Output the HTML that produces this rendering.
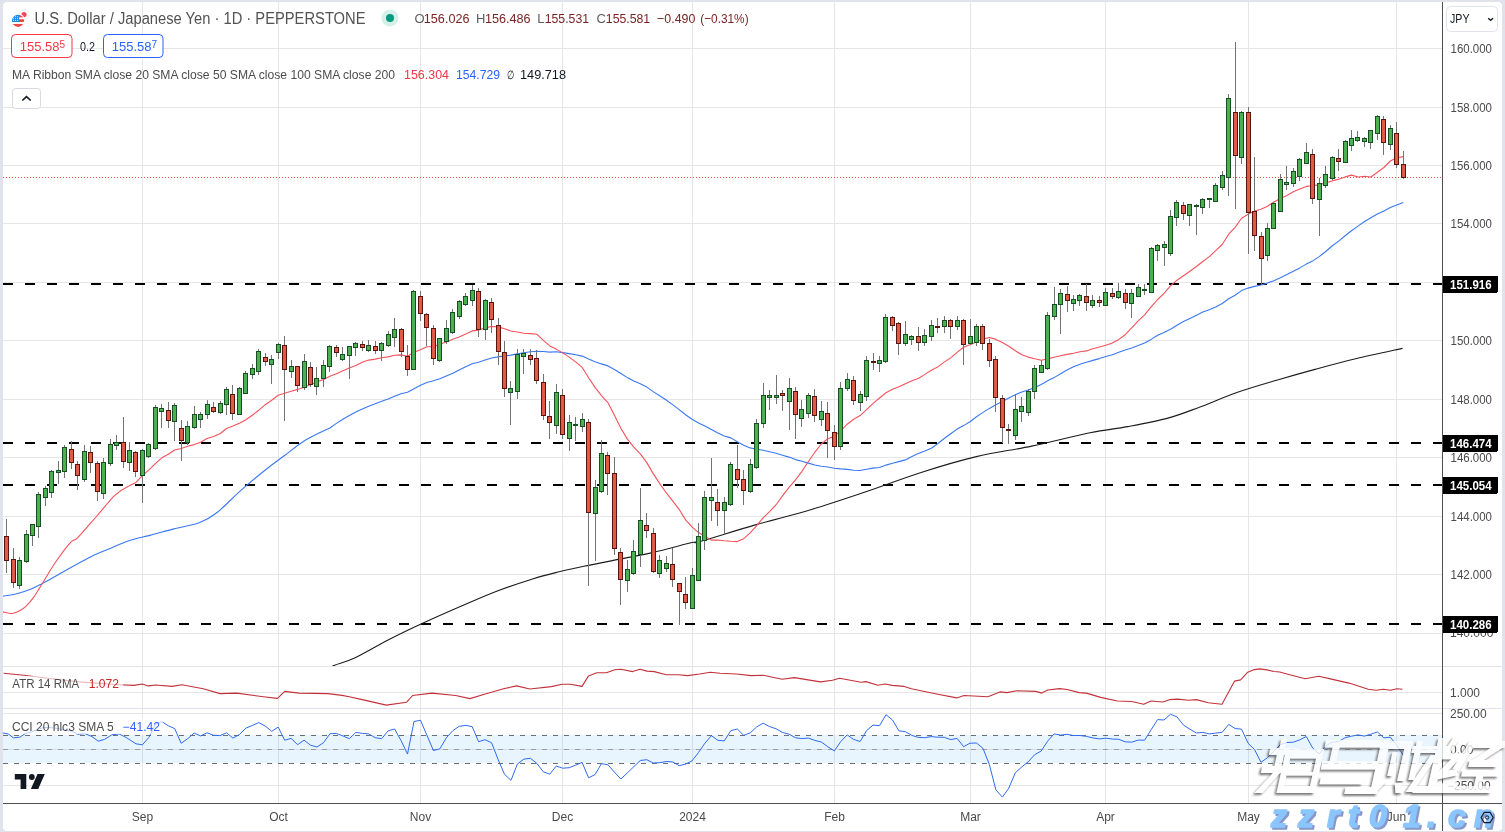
<!DOCTYPE html>
<html><head><meta charset="utf-8"><style>
html,body{margin:0;padding:0;background:#e0e3eb;width:1505px;height:832px;overflow:hidden;}
svg{display:block;will-change:transform}
</style></head><body>
<svg width="1505" height="832" viewBox="0 0 1505 832" shape-rendering="crispEdges">
<rect x="3" y="2" width="1499" height="829" rx="4" fill="#ffffff"/>
<rect x="142" y="2" width="1" height="801" fill="#e6e6e6"/>
<rect x="278" y="2" width="1" height="801" fill="#e6e6e6"/>
<rect x="420" y="2" width="1" height="801" fill="#e6e6e6"/>
<rect x="562" y="2" width="1" height="801" fill="#e6e6e6"/>
<rect x="692" y="2" width="1" height="801" fill="#e6e6e6"/>
<rect x="834" y="2" width="1" height="801" fill="#e6e6e6"/>
<rect x="970" y="2" width="1" height="801" fill="#e6e6e6"/>
<rect x="1105" y="2" width="1" height="801" fill="#e6e6e6"/>
<rect x="1248" y="2" width="1" height="801" fill="#e6e6e6"/>
<rect x="1396" y="2" width="1" height="801" fill="#e6e6e6"/>
<rect x="3" y="48" width="1439" height="1" fill="#e6e6e6"/>
<rect x="3" y="107" width="1439" height="1" fill="#e6e6e6"/>
<rect x="3" y="165" width="1439" height="1" fill="#e6e6e6"/>
<rect x="3" y="223" width="1439" height="1" fill="#e6e6e6"/>
<rect x="3" y="282" width="1439" height="1" fill="#e6e6e6"/>
<rect x="3" y="340" width="1439" height="1" fill="#e6e6e6"/>
<rect x="3" y="399" width="1439" height="1" fill="#e6e6e6"/>
<rect x="3" y="457" width="1439" height="1" fill="#e6e6e6"/>
<rect x="3" y="516" width="1439" height="1" fill="#e6e6e6"/>
<rect x="3" y="574" width="1439" height="1" fill="#e6e6e6"/>
<rect x="3" y="633" width="1439" height="1" fill="#e6e6e6"/>
<rect x="3" y="692" width="1439" height="1" fill="#e6e6e6"/>
<rect x="3" y="713" width="1439" height="1" fill="#e6e6e6"/>
<rect x="3" y="785" width="1439" height="1" fill="#e6e6e6"/>
<rect x="3" y="735" width="1439" height="28" fill="#2196f3" fill-opacity="0.1"/>
<rect x="3" y="749" width="1439" height="1" fill="#d8dde3"/>
<line x1="3" y1="735.5" x2="1442" y2="735.5" stroke="#6a6d75" stroke-width="1" stroke-dasharray="5 6"/>
<line x1="3" y1="749.5" x2="1442" y2="749.5" stroke="#9a9ca3" stroke-width="1" stroke-dasharray="5 6"/>
<line x1="3" y1="763.5" x2="1442" y2="763.5" stroke="#6a6d75" stroke-width="1" stroke-dasharray="5 6"/>
<rect x="3" y="666" width="1499" height="1" fill="#e0e3eb"/>
<rect x="3" y="708" width="1499" height="1" fill="#e0e3eb"/>
<line x1="3" y1="284" x2="1442" y2="284" stroke="#000" stroke-width="2" stroke-dasharray="10 12"/>
<line x1="3" y1="443" x2="1442" y2="443" stroke="#000" stroke-width="2" stroke-dasharray="10 12"/>
<line x1="3" y1="485" x2="1442" y2="485" stroke="#000" stroke-width="2" stroke-dasharray="10 12"/>
<line x1="3" y1="624" x2="1442" y2="624" stroke="#000" stroke-width="2" stroke-dasharray="10 12"/>
<line x1="3" y1="177.5" x2="1442" y2="177.5" stroke="#e0533f" stroke-width="1" stroke-dasharray="1 2"/>
<defs><clipPath id="mainclip"><rect x="3" y="2" width="1439" height="664"/></clipPath></defs>
<g clip-path="url(#mainclip)" fill="none" stroke-linejoin="round" shape-rendering="geometricPrecision">
<path d="M326.00 670.00 C327.43 669.22 329.83 667.28 334.60 665.30 C339.37 663.32 345.52 662.40 354.60 658.10 C363.68 653.80 377.58 645.38 389.10 639.50 C400.62 633.62 411.73 628.33 423.70 622.80 C435.67 617.27 448.95 611.48 460.90 606.30 C472.85 601.12 483.45 596.27 495.40 591.70 C507.35 587.13 521.97 582.22 532.60 578.90 C543.23 575.58 550.33 573.97 559.20 571.80 C568.07 569.63 576.93 567.77 585.80 565.90 C594.67 564.03 601.33 562.82 612.40 560.60 C623.47 558.38 638.92 555.62 652.20 552.60 C665.48 549.58 684.13 544.35 692.10 542.50 C700.07 540.65 689.47 544.43 700.00 541.50 C710.53 538.57 736.87 530.20 755.30 524.90 C773.73 519.60 792.17 515.23 810.60 509.70 C829.03 504.17 847.48 497.92 865.90 491.70 C884.32 485.48 902.68 478.25 921.10 472.40 C939.52 466.55 957.97 460.98 976.40 456.60 C994.83 452.22 1012.77 450.07 1031.70 446.10 C1050.63 442.13 1074.03 436.05 1090.00 432.80 C1105.97 429.55 1114.50 429.05 1127.50 426.60 C1140.50 424.15 1156.02 421.33 1168.00 418.10 C1179.98 414.87 1187.92 411.47 1199.40 407.20 C1210.88 402.93 1223.88 397.03 1236.90 392.50 C1249.92 387.97 1264.48 383.85 1277.50 380.00 C1290.52 376.15 1301.98 372.93 1315.00 369.40 C1328.02 365.87 1341.02 362.30 1355.60 358.80 C1370.18 355.30 1394.68 350.13 1402.50 348.40" stroke="#1c1c1c" stroke-width="1.1"/>
<path d="M2.90 596.20 C5.22 595.80 12.08 595.00 16.80 593.80 C21.52 592.60 27.00 590.68 31.20 589.00 C35.40 587.32 36.78 586.50 42.00 583.70 C47.22 580.90 54.68 576.53 62.50 572.20 C70.32 567.87 81.32 561.52 88.90 557.70 C96.48 553.88 101.20 552.18 108.00 549.30 C114.80 546.42 122.70 542.72 129.70 540.40 C136.70 538.08 142.65 537.32 150.00 535.40 C157.35 533.48 165.50 531.07 173.80 528.90 C182.10 526.73 192.58 525.13 199.80 522.40 C207.02 519.67 210.25 517.83 217.10 512.50 C223.95 507.17 232.97 497.40 240.90 490.40 C248.83 483.40 257.48 476.27 264.70 470.50 C271.92 464.73 277.70 460.67 284.20 455.80 C290.70 450.93 297.20 445.45 303.70 441.30 C310.20 437.15 319.95 432.63 323.20 430.90 L329.9 428.0 L336.4 423.4 L342.9 419.3 L349.3 415.6 L355.8 411.9 L362.3 409.0 L368.7 406.2 L375.2 403.8 L381.7 401.2 L388.1 399.0 L394.6 396.3 L401.1 393.8 L407.5 392.2 L414.0 388.7 L420.5 385.2 L426.9 382.5 L433.4 380.8 L439.8 378.7 L446.3 376.0 L452.8 373.3 L459.2 369.9 L465.7 366.8 L472.2 363.7 L478.6 362.2 L485.1 360.0 L491.6 358.0 L498.0 356.9 L504.5 355.9 L511.0 355.1 L517.4 353.9 L523.9 352.7 L530.4 351.8 L536.8 351.2 L543.3 351.5 L549.8 352.1 L556.2 351.7 L562.7 352.6 L569.2 353.6 L575.6 354.7 L582.1 356.1 L588.6 359.1 L595.0 361.7 L601.5 363.9 L608.0 365.9 L614.4 369.6 L620.9 373.5 L627.4 377.6 L633.8 381.0 L640.3 383.8 L646.8 387.1 L653.2 391.6 L659.7 395.8 L666.2 400.0 L672.6 404.6 L679.1 409.6 L685.6 414.7 L692.0 419.3 L698.5 423.0 L704.9 426.1 L711.4 429.4 L717.9 433.0 L724.3 436.0 L730.8 437.9 L737.3 441.7 L743.7 445.2 L750.2 447.9 L756.7 449.2 L763.1 450.3 L769.6 451.7 L776.1 453.3 L782.5 455.2 L789.0 457.1 L795.5 459.6 L801.9 461.2 L808.4 463.1 L814.9 465.0 L821.3 466.2 L827.8 467.0 L834.3 468.2 L840.7 468.9 L847.2 469.4 L853.7 470.2 L860.1 470.5 L866.6 469.3 L873.1 468.1 L879.5 467.5 L886.0 465.1 L892.5 463.2 L898.9 461.6 L905.4 459.9 L911.9 456.4 L918.3 453.5 L924.8 451.1 L931.3 448.2 L937.7 443.7 L944.2 438.5 L950.7 433.7 L957.1 429.1 L963.6 425.6 L970.0 421.7 L976.5 416.8 L983.0 412.4 L989.4 408.4 L995.9 404.8 L1002.4 401.5 L1008.8 398.0 L1015.3 394.7 L1021.8 392.1 L1028.2 390.0 L1034.7 387.4 L1041.2 384.5 L1047.6 380.8 L1054.1 377.6 L1060.6 373.8 L1067.0 370.0 L1073.5 366.7 L1080.0 364.2 L1086.4 362.3 L1092.9 360.4 L1099.4 358.6 L1105.8 356.5 L1112.3 354.7 L1118.8 352.2 L1125.2 350.1 L1131.7 348.0 L1138.2 345.5 L1144.6 343.0 L1151.1 339.4 L1157.6 335.3 L1164.0 332.4 L1170.5 329.2 L1177.0 325.2 L1183.4 321.6 L1189.9 318.5 L1196.4 315.3 L1202.8 312.1 L1209.3 309.7 L1215.7 306.9 L1222.2 303.5 L1228.7 298.8 L1235.1 295.2 L1241.6 290.6 L1248.1 288.1 L1254.5 286.4 L1261.0 285.0 L1267.5 283.1 L1273.9 280.7 L1280.4 277.8 L1286.9 274.6 L1293.3 271.3 L1299.8 267.9 L1306.3 264.1 L1312.7 260.9 L1319.2 256.6 L1325.7 251.5 L1332.1 246.0 L1338.6 241.1 L1345.1 235.8 L1351.5 230.7 L1358.0 226.1 L1364.5 221.5 L1370.9 217.8 L1377.4 214.1 L1383.9 211.1 L1390.3 207.6 L1396.8 204.9 L1403.3 202.6" stroke="#3a78f2" stroke-width="1.1"/>
<path d="M2.90 611.80 C4.42 612.08 9.28 613.63 12.00 613.50 C14.72 613.37 16.80 612.28 19.20 611.00 C21.60 609.72 24.00 608.07 26.40 605.80 C28.80 603.53 31.00 601.03 33.60 597.40 C36.20 593.77 38.38 589.82 42.00 584.00 C45.62 578.18 50.68 569.28 55.30 562.50 C59.92 555.72 65.92 547.50 69.70 543.30 C73.48 539.10 73.62 541.68 78.00 537.30 C82.38 532.92 89.78 524.08 96.00 517.00 C102.22 509.92 109.68 500.03 115.30 494.80 C120.92 489.57 127.30 487.13 129.70 485.60 L136.0 482.4 L142.4 475.7 L148.9 469.9 L155.4 463.6 L161.8 457.8 L168.3 454.2 L174.7 450.0 L181.2 448.5 L187.7 446.3 L194.1 444.6 L200.6 442.2 L207.1 438.6 L213.5 436.6 L220.0 433.7 L226.5 428.5 L232.9 426.1 L239.4 423.3 L245.9 419.8 L252.3 415.2 L258.8 410.2 L265.3 404.7 L271.7 400.2 L278.2 395.2 L284.7 393.3 L291.1 391.2 L297.6 389.4 L304.1 387.3 L310.5 384.5 L317.0 382.0 L323.5 379.6 L329.9 376.2 L336.4 373.7 L342.9 370.8 L349.3 367.9 L355.8 365.6 L362.3 362.3 L368.7 360.1 L375.2 359.1 L381.7 357.8 L388.1 356.9 L394.6 355.3 L401.1 354.9 L407.5 356.2 L414.0 352.3 L420.5 349.7 L426.9 346.8 L433.4 346.7 L439.8 344.3 L446.3 341.9 L452.8 339.2 L459.2 336.9 L465.7 334.1 L472.2 330.9 L478.6 330.1 L485.1 327.9 L491.6 326.5 L498.0 326.9 L504.5 328.8 L511.0 331.0 L517.4 332.0 L523.9 333.2 L530.4 333.6 L536.8 334.2 L543.3 340.4 L549.8 345.9 L556.2 349.1 L562.7 352.9 L569.2 357.1 L575.6 361.9 L582.1 367.3 L588.6 377.8 L595.0 387.4 L601.5 395.6 L608.0 402.8 L614.4 415.2 L620.9 428.2 L627.4 439.1 L633.8 447.1 L640.3 453.8 L646.8 462.6 L653.2 473.6 L659.7 483.6 L666.2 492.7 L672.6 500.8 L679.1 509.3 L685.6 519.9 L692.0 526.9 L698.5 532.6 L704.9 536.2 L711.4 540.1 L717.9 540.0 L724.3 540.8 L730.8 541.3 L737.3 541.6 L743.7 538.7 L750.2 532.9 L756.7 525.6 L763.1 517.8 L769.6 511.6 L776.1 504.7 L782.5 495.9 L789.0 487.3 L795.5 479.9 L801.9 471.4 L808.4 461.5 L814.9 452.2 L821.3 444.0 L827.8 438.7 L834.3 436.2 L840.7 430.8 L847.2 424.2 L853.7 419.2 L860.1 415.6 L866.6 409.7 L873.1 403.3 L879.5 398.0 L886.0 392.8 L892.5 389.3 L898.9 386.8 L905.4 383.7 L911.9 380.7 L918.3 378.5 L924.8 374.4 L931.3 370.2 L937.7 366.9 L944.2 362.1 L950.7 357.9 L957.1 352.4 L963.6 347.2 L970.0 344.7 L976.5 342.0 L983.0 339.1 L989.4 337.5 L995.9 339.4 L1002.4 342.6 L1008.8 346.2 L1015.3 350.8 L1021.8 354.8 L1028.2 357.1 L1034.7 358.8 L1041.2 360.3 L1047.6 358.9 L1054.1 357.3 L1060.6 355.8 L1067.0 354.4 L1073.5 353.3 L1080.0 351.8 L1086.4 350.9 L1092.9 348.7 L1099.4 347.0 L1105.8 345.3 L1112.3 342.9 L1118.8 339.4 L1125.2 334.7 L1131.7 327.9 L1138.2 320.8 L1144.6 314.8 L1151.1 306.8 L1157.6 299.5 L1164.0 293.4 L1170.5 285.9 L1177.0 280.2 L1183.4 275.8 L1189.9 271.3 L1196.4 266.5 L1202.8 261.5 L1209.3 256.6 L1215.7 250.7 L1222.2 244.5 L1228.7 234.2 L1235.1 227.4 L1241.6 218.2 L1248.1 214.3 L1254.5 211.0 L1261.0 209.3 L1267.5 206.3 L1273.9 202.0 L1280.4 198.5 L1286.9 195.4 L1293.3 191.7 L1299.8 188.9 L1306.3 186.4 L1312.7 185.7 L1319.2 184.6 L1325.7 183.0 L1332.1 180.9 L1338.6 179.2 L1345.1 176.9 L1351.5 175.1 L1358.0 177.0 L1364.5 176.2 L1370.9 177.0 L1377.4 172.2 L1383.9 167.5 L1390.3 161.0 L1396.8 157.8 L1403.3 156.6" stroke="#f4525c" stroke-width="1.1"/>
</g>
<g fill="none" stroke-linejoin="round" shape-rendering="geometricPrecision">
<path d="M3.6 673.2 L23.9 675.2 L47.8 678.3 L79.0 681.9 L119.6 684.7 L134.0 685.4 L142.3 684.0 L148.3 685.9 L155.5 685.0 L172.2 686.4 L181.8 684.7 L203.3 688.8 L220.0 693.6 L236.8 693.1 L263.2 696.7 L277.5 698.4 L284.7 691.4 L299.0 693.1 L327.8 693.6 L342.1 695.4 L349.3 696.7 L360.0 699.1 L386.3 705.1 L406.7 702.2 L412.6 695.5 L431.8 693.1 L455.7 695.5 L470.0 698.6 L484.4 694.3 L503.5 688.8 L516.7 685.9 L529.9 689.0 L551.4 686.6 L562.2 684.2 L570.5 684.2 L582.0 686.4 L588.5 675.9 L596.8 672.8 L606.4 672.8 L614.8 669.7 L620.8 669.2 L632.7 671.6 L639.9 669.2 L647.1 671.1 L654.3 671.6 L666.2 674.7 L678.2 674.7 L687.8 675.6 L699.7 674.0 L710.5 672.3 L720.0 673.3 L736.7 674.0 L751.1 675.6 L763.1 675.2 L782.2 679.2 L794.2 677.6 L820.5 681.9 L832.4 680.2 L839.6 678.3 L861.1 682.3 L865.9 681.6 L877.9 685.2 L885.1 684.0 L892.2 685.4 L904.2 686.4 L911.4 688.8 L935.3 693.8 L956.8 697.9 L964.0 695.5 L987.9 696.7 L999.9 691.9 L1007.1 692.6 L1016.7 690.7 L1035.8 691.4 L1041.8 693.1 L1047.8 690.0 L1059.7 688.6 L1067.2 689.5 L1079.1 692.6 L1086.3 693.1 L1100.7 697.4 L1117.4 701.0 L1131.8 701.5 L1143.7 704.3 L1150.9 701.0 L1162.9 702.0 L1170.0 699.6 L1177.2 699.1 L1189.2 700.3 L1196.4 699.6 L1208.3 702.7 L1222.0 704.3 L1234.6 681.1 L1240.6 679.9 L1247.8 672.2 L1254.2 669.6 L1259.7 668.9 L1266.9 669.9 L1274.1 671.5 L1279.7 672.0 L1291.6 675.2 L1305.2 678.7 L1318.8 676.3 L1331.5 679.1 L1349.0 683.1 L1368.2 689.2 L1376.2 690.3 L1383.3 689.3 L1390.5 690.3 L1396.9 688.7 L1402.5 689.2" stroke="#c2323b" stroke-width="1.1"/>
<path d="M2.7 733.0 L8.1 733.9 L13.5 737.9 L19.8 737.2 L25.2 733.6 L31.6 731.8 L37.9 729.4 L43.3 727.6 L51.4 727.6 L57.7 728.5 L63.1 729.8 L72.1 731.2 L77.5 734.3 L84.8 733.6 L92.0 736.6 L98.3 741.2 L104.6 739.4 L111.8 734.8 L119.0 733.9 L126.2 737.5 L136.0 743.8 L142.4 744.8 L148.9 737.4 L155.4 724.2 L161.8 721.6 L168.3 725.8 L174.7 728.6 L181.2 743.3 L187.7 738.7 L194.1 733.1 L200.6 735.9 L207.1 732.8 L213.5 735.3 L220.0 735.6 L226.5 732.8 L232.9 738.1 L239.4 734.6 L245.9 728.1 L252.3 725.5 L258.8 722.6 L265.3 726.1 L271.7 731.3 L278.2 727.1 L284.7 740.2 L291.1 738.4 L297.6 744.7 L304.1 740.2 L310.5 745.2 L317.0 747.0 L323.5 742.7 L329.9 733.8 L336.4 733.4 L342.9 735.9 L349.3 738.7 L355.8 732.4 L362.3 733.4 L368.7 733.9 L375.2 737.7 L381.7 738.7 L388.1 730.9 L394.6 729.0 L401.1 740.7 L407.5 754.1 L414.0 721.5 L420.5 720.3 L426.9 735.2 L433.4 750.5 L439.8 748.9 L446.3 737.8 L452.8 730.7 L459.2 726.3 L465.7 725.4 L472.2 726.7 L478.6 741.7 L485.1 739.7 L491.6 742.8 L498.0 759.2 L504.5 774.3 L511.0 780.3 L517.4 764.0 L523.9 759.1 L530.4 758.3 L536.8 763.3 L543.3 771.8 L549.8 774.2 L556.2 766.0 L562.7 768.2 L569.2 767.7 L575.6 765.2 L582.1 762.4 L588.6 777.8 L595.0 774.6 L601.5 763.6 L608.0 764.8 L614.4 772.1 L620.9 779.0 L627.4 772.9 L633.8 766.7 L640.3 760.5 L646.8 759.7 L653.2 763.0 L659.7 762.7 L666.2 761.5 L672.6 761.9 L679.1 765.7 L685.6 764.1 L692.0 760.9 L698.5 752.5 L704.9 743.2 L711.4 735.7 L717.9 740.3 L724.3 740.9 L730.8 730.7 L737.3 729.0 L743.7 735.3 L750.2 732.9 L756.7 726.9 L763.1 723.2 L769.6 726.6 L776.1 728.8 L782.5 732.5 L789.0 734.1 L795.5 737.8 L801.9 738.6 L808.4 738.1 L814.9 740.4 L821.3 742.0 L827.8 746.7 L834.3 750.9 L840.7 741.6 L847.2 734.9 L853.7 739.4 L860.1 741.5 L866.6 730.6 L873.1 725.1 L879.5 725.7 L886.0 714.7 L892.5 720.0 L898.9 730.8 L905.4 731.7 L911.9 735.4 L918.3 737.4 L924.8 737.7 L931.3 736.6 L937.7 737.2 L944.2 737.3 L950.7 739.6 L957.1 738.4 L963.6 746.7 L970.0 743.2 L976.5 743.0 L983.0 748.4 L989.4 764.7 L995.9 789.9 L1002.4 797.1 L1008.8 788.1 L1015.3 772.8 L1021.8 766.9 L1028.2 761.8 L1034.7 754.7 L1041.2 751.0 L1047.6 741.2 L1054.1 733.9 L1060.6 735.1 L1067.0 734.3 L1073.5 735.5 L1080.0 735.5 L1086.4 736.4 L1092.9 737.9 L1099.4 738.9 L1105.8 738.2 L1112.3 739.0 L1118.8 739.3 L1125.2 741.8 L1131.7 742.2 L1138.2 740.1 L1144.6 740.2 L1151.1 729.8 L1157.6 719.6 L1164.0 720.0 L1170.5 714.2 L1177.0 716.9 L1183.4 725.0 L1189.9 729.2 L1196.4 733.0 L1202.8 732.4 L1209.3 733.9 L1215.7 733.1 L1222.2 732.3 L1228.7 724.4 L1235.1 728.5 L1241.6 729.2 L1248.1 743.2 L1254.5 749.5 L1261.0 762.3 L1267.5 757.7 L1273.9 751.2 L1280.4 744.6 L1286.9 742.5 L1293.3 742.2 L1299.8 739.8 L1306.3 736.5 L1312.7 748.1 L1319.2 754.0 L1325.7 745.9 L1332.1 742.1 L1338.6 741.5 L1345.1 737.7 L1351.5 736.2 L1358.0 734.9 L1364.5 736.1 L1370.9 734.2 L1377.4 731.9 L1383.9 737.9 L1390.3 737.2 L1396.8 745.3 L1403.3 755.3" stroke="#2f6bf0" stroke-width="1"/>
</g>
<rect x="6" y="519" width="1" height="54" fill="#737373"/>
<rect x="4" y="536" width="5" height="25" fill="#5a1410"/>
<rect x="5" y="537" width="3" height="23" fill="#e05a46"/>
<rect x="13" y="548" width="1" height="40" fill="#737373"/>
<rect x="11" y="559" width="5" height="24" fill="#5a1410"/>
<rect x="12" y="560" width="3" height="22" fill="#e05a46"/>
<rect x="19" y="557" width="1" height="32" fill="#737373"/>
<rect x="17" y="560" width="5" height="26" fill="#174f25"/>
<rect x="18" y="561" width="3" height="24" fill="#4caf50"/>
<rect x="26" y="530" width="1" height="33" fill="#737373"/>
<rect x="24" y="534" width="5" height="28" fill="#174f25"/>
<rect x="25" y="535" width="3" height="26" fill="#4caf50"/>
<rect x="32" y="524" width="1" height="22" fill="#737373"/>
<rect x="30" y="524" width="5" height="12" fill="#174f25"/>
<rect x="31" y="525" width="3" height="10" fill="#4caf50"/>
<rect x="38" y="492" width="1" height="46" fill="#737373"/>
<rect x="36" y="494" width="5" height="33" fill="#174f25"/>
<rect x="37" y="495" width="3" height="31" fill="#4caf50"/>
<rect x="45" y="486" width="1" height="20" fill="#737373"/>
<rect x="43" y="488" width="5" height="10" fill="#174f25"/>
<rect x="44" y="489" width="3" height="8" fill="#4caf50"/>
<rect x="51" y="470" width="1" height="28" fill="#737373"/>
<rect x="49" y="471" width="5" height="22" fill="#174f25"/>
<rect x="50" y="472" width="3" height="20" fill="#4caf50"/>
<rect x="58" y="461" width="1" height="23" fill="#737373"/>
<rect x="56" y="470" width="5" height="3" fill="#174f25"/>
<rect x="57" y="471" width="3" height="1" fill="#4caf50"/>
<rect x="64" y="445" width="1" height="33" fill="#737373"/>
<rect x="62" y="447" width="5" height="25" fill="#174f25"/>
<rect x="63" y="448" width="3" height="23" fill="#4caf50"/>
<rect x="71" y="441" width="1" height="28" fill="#737373"/>
<rect x="69" y="449" width="5" height="14" fill="#5a1410"/>
<rect x="70" y="450" width="3" height="12" fill="#e05a46"/>
<rect x="77" y="461" width="1" height="29" fill="#737373"/>
<rect x="75" y="464" width="5" height="12" fill="#5a1410"/>
<rect x="76" y="465" width="3" height="10" fill="#e05a46"/>
<rect x="84" y="445" width="1" height="37" fill="#737373"/>
<rect x="82" y="451" width="5" height="29" fill="#174f25"/>
<rect x="83" y="452" width="3" height="27" fill="#4caf50"/>
<rect x="90" y="446" width="1" height="27" fill="#737373"/>
<rect x="88" y="452" width="5" height="11" fill="#5a1410"/>
<rect x="89" y="453" width="3" height="9" fill="#e05a46"/>
<rect x="97" y="461" width="1" height="40" fill="#737373"/>
<rect x="95" y="463" width="5" height="29" fill="#5a1410"/>
<rect x="96" y="464" width="3" height="27" fill="#e05a46"/>
<rect x="103" y="458" width="1" height="41" fill="#737373"/>
<rect x="101" y="462" width="5" height="32" fill="#174f25"/>
<rect x="102" y="463" width="3" height="30" fill="#4caf50"/>
<rect x="110" y="439" width="1" height="27" fill="#737373"/>
<rect x="108" y="444" width="5" height="20" fill="#174f25"/>
<rect x="109" y="445" width="3" height="18" fill="#4caf50"/>
<rect x="116" y="435" width="1" height="15" fill="#737373"/>
<rect x="114" y="442" width="5" height="4" fill="#174f25"/>
<rect x="115" y="443" width="3" height="2" fill="#4caf50"/>
<rect x="123" y="417" width="1" height="51" fill="#737373"/>
<rect x="121" y="442" width="5" height="20" fill="#5a1410"/>
<rect x="122" y="443" width="3" height="18" fill="#e05a46"/>
<rect x="129" y="442" width="1" height="29" fill="#737373"/>
<rect x="127" y="450" width="5" height="13" fill="#174f25"/>
<rect x="128" y="451" width="3" height="11" fill="#4caf50"/>
<rect x="135" y="451" width="1" height="26" fill="#737373"/>
<rect x="133" y="452" width="5" height="20" fill="#5a1410"/>
<rect x="134" y="453" width="3" height="18" fill="#e05a46"/>
<rect x="142" y="449" width="1" height="54" fill="#737373"/>
<rect x="140" y="450" width="5" height="26" fill="#174f25"/>
<rect x="141" y="451" width="3" height="24" fill="#4caf50"/>
<rect x="148" y="443" width="1" height="15" fill="#737373"/>
<rect x="146" y="444" width="5" height="13" fill="#174f25"/>
<rect x="147" y="445" width="3" height="11" fill="#4caf50"/>
<rect x="155" y="405" width="1" height="45" fill="#737373"/>
<rect x="153" y="407" width="5" height="42" fill="#174f25"/>
<rect x="154" y="408" width="3" height="40" fill="#4caf50"/>
<rect x="161" y="404" width="1" height="24" fill="#737373"/>
<rect x="159" y="408" width="5" height="4" fill="#174f25"/>
<rect x="160" y="409" width="3" height="2" fill="#4caf50"/>
<rect x="168" y="402" width="1" height="26" fill="#737373"/>
<rect x="166" y="410" width="5" height="11" fill="#5a1410"/>
<rect x="167" y="411" width="3" height="9" fill="#e05a46"/>
<rect x="174" y="403" width="1" height="38" fill="#737373"/>
<rect x="172" y="405" width="5" height="17" fill="#174f25"/>
<rect x="173" y="406" width="3" height="15" fill="#4caf50"/>
<rect x="181" y="420" width="1" height="41" fill="#737373"/>
<rect x="179" y="428" width="5" height="13" fill="#5a1410"/>
<rect x="180" y="429" width="3" height="11" fill="#e05a46"/>
<rect x="187" y="421" width="1" height="24" fill="#737373"/>
<rect x="185" y="426" width="5" height="17" fill="#174f25"/>
<rect x="186" y="427" width="3" height="15" fill="#4caf50"/>
<rect x="194" y="406" width="1" height="23" fill="#737373"/>
<rect x="192" y="414" width="5" height="14" fill="#174f25"/>
<rect x="193" y="415" width="3" height="12" fill="#4caf50"/>
<rect x="200" y="412" width="1" height="16" fill="#737373"/>
<rect x="198" y="414" width="5" height="6" fill="#174f25"/>
<rect x="199" y="415" width="3" height="4" fill="#4caf50"/>
<rect x="207" y="400" width="1" height="19" fill="#737373"/>
<rect x="205" y="404" width="5" height="11" fill="#174f25"/>
<rect x="206" y="405" width="3" height="9" fill="#4caf50"/>
<rect x="213" y="402" width="1" height="11" fill="#737373"/>
<rect x="211" y="407" width="5" height="5" fill="#5a1410"/>
<rect x="212" y="408" width="3" height="3" fill="#e05a46"/>
<rect x="220" y="401" width="1" height="13" fill="#737373"/>
<rect x="218" y="403" width="5" height="10" fill="#174f25"/>
<rect x="219" y="404" width="3" height="8" fill="#4caf50"/>
<rect x="226" y="387" width="1" height="28" fill="#737373"/>
<rect x="224" y="389" width="5" height="16" fill="#174f25"/>
<rect x="225" y="390" width="3" height="14" fill="#4caf50"/>
<rect x="232" y="385" width="1" height="35" fill="#737373"/>
<rect x="230" y="394" width="5" height="20" fill="#5a1410"/>
<rect x="231" y="395" width="3" height="18" fill="#e05a46"/>
<rect x="239" y="387" width="1" height="28" fill="#737373"/>
<rect x="237" y="388" width="5" height="27" fill="#174f25"/>
<rect x="238" y="389" width="3" height="25" fill="#4caf50"/>
<rect x="245" y="371" width="1" height="23" fill="#737373"/>
<rect x="243" y="373" width="5" height="21" fill="#174f25"/>
<rect x="244" y="374" width="3" height="19" fill="#4caf50"/>
<rect x="252" y="364" width="1" height="15" fill="#737373"/>
<rect x="250" y="368" width="5" height="7" fill="#174f25"/>
<rect x="251" y="369" width="3" height="5" fill="#4caf50"/>
<rect x="258" y="349" width="1" height="26" fill="#737373"/>
<rect x="256" y="351" width="5" height="21" fill="#174f25"/>
<rect x="257" y="352" width="3" height="19" fill="#4caf50"/>
<rect x="265" y="353" width="1" height="13" fill="#737373"/>
<rect x="263" y="357" width="5" height="5" fill="#5a1410"/>
<rect x="264" y="358" width="3" height="3" fill="#e05a46"/>
<rect x="271" y="355" width="1" height="29" fill="#737373"/>
<rect x="269" y="359" width="5" height="6" fill="#174f25"/>
<rect x="270" y="360" width="3" height="4" fill="#4caf50"/>
<rect x="278" y="343" width="1" height="16" fill="#737373"/>
<rect x="276" y="344" width="5" height="9" fill="#174f25"/>
<rect x="277" y="345" width="3" height="7" fill="#4caf50"/>
<rect x="284" y="336" width="1" height="85" fill="#737373"/>
<rect x="282" y="345" width="5" height="25" fill="#5a1410"/>
<rect x="283" y="346" width="3" height="23" fill="#e05a46"/>
<rect x="291" y="360" width="1" height="18" fill="#737373"/>
<rect x="289" y="366" width="5" height="6" fill="#174f25"/>
<rect x="290" y="367" width="3" height="4" fill="#4caf50"/>
<rect x="297" y="366" width="1" height="26" fill="#737373"/>
<rect x="295" y="366" width="5" height="20" fill="#5a1410"/>
<rect x="296" y="367" width="3" height="18" fill="#e05a46"/>
<rect x="304" y="354" width="1" height="36" fill="#737373"/>
<rect x="302" y="361" width="5" height="27" fill="#174f25"/>
<rect x="303" y="362" width="3" height="25" fill="#4caf50"/>
<rect x="310" y="362" width="1" height="25" fill="#737373"/>
<rect x="308" y="367" width="5" height="18" fill="#5a1410"/>
<rect x="309" y="368" width="3" height="16" fill="#e05a46"/>
<rect x="316" y="367" width="1" height="28" fill="#737373"/>
<rect x="314" y="378" width="5" height="9" fill="#174f25"/>
<rect x="315" y="379" width="3" height="7" fill="#4caf50"/>
<rect x="323" y="360" width="1" height="27" fill="#737373"/>
<rect x="321" y="365" width="5" height="14" fill="#174f25"/>
<rect x="322" y="366" width="3" height="12" fill="#4caf50"/>
<rect x="329" y="345" width="1" height="27" fill="#737373"/>
<rect x="327" y="346" width="5" height="21" fill="#174f25"/>
<rect x="328" y="347" width="3" height="19" fill="#4caf50"/>
<rect x="336" y="345" width="1" height="12" fill="#737373"/>
<rect x="334" y="347" width="5" height="6" fill="#5a1410"/>
<rect x="335" y="348" width="3" height="4" fill="#e05a46"/>
<rect x="342" y="347" width="1" height="14" fill="#737373"/>
<rect x="340" y="354" width="5" height="6" fill="#174f25"/>
<rect x="341" y="355" width="3" height="4" fill="#4caf50"/>
<rect x="349" y="346" width="1" height="33" fill="#737373"/>
<rect x="347" y="346" width="5" height="10" fill="#174f25"/>
<rect x="348" y="347" width="3" height="8" fill="#4caf50"/>
<rect x="355" y="342" width="1" height="14" fill="#737373"/>
<rect x="353" y="343" width="5" height="5" fill="#174f25"/>
<rect x="354" y="344" width="3" height="3" fill="#4caf50"/>
<rect x="362" y="341" width="1" height="10" fill="#737373"/>
<rect x="360" y="344" width="5" height="4" fill="#5a1410"/>
<rect x="361" y="345" width="3" height="2" fill="#e05a46"/>
<rect x="368" y="340" width="1" height="12" fill="#737373"/>
<rect x="366" y="345" width="5" height="6" fill="#174f25"/>
<rect x="367" y="346" width="3" height="4" fill="#4caf50"/>
<rect x="375" y="341" width="1" height="13" fill="#737373"/>
<rect x="373" y="346" width="5" height="5" fill="#5a1410"/>
<rect x="374" y="347" width="3" height="3" fill="#e05a46"/>
<rect x="381" y="342" width="1" height="19" fill="#737373"/>
<rect x="379" y="343" width="5" height="8" fill="#174f25"/>
<rect x="380" y="344" width="3" height="6" fill="#4caf50"/>
<rect x="388" y="331" width="1" height="16" fill="#737373"/>
<rect x="386" y="334" width="5" height="12" fill="#174f25"/>
<rect x="387" y="335" width="3" height="10" fill="#4caf50"/>
<rect x="394" y="318" width="1" height="29" fill="#737373"/>
<rect x="392" y="329" width="5" height="9" fill="#174f25"/>
<rect x="393" y="330" width="3" height="7" fill="#4caf50"/>
<rect x="401" y="328" width="1" height="29" fill="#737373"/>
<rect x="399" y="329" width="5" height="23" fill="#5a1410"/>
<rect x="400" y="330" width="3" height="21" fill="#e05a46"/>
<rect x="407" y="345" width="1" height="31" fill="#737373"/>
<rect x="405" y="356" width="5" height="14" fill="#5a1410"/>
<rect x="406" y="357" width="3" height="12" fill="#e05a46"/>
<rect x="413" y="290" width="1" height="80" fill="#737373"/>
<rect x="411" y="291" width="5" height="79" fill="#174f25"/>
<rect x="412" y="292" width="3" height="77" fill="#4caf50"/>
<rect x="420" y="291" width="1" height="30" fill="#737373"/>
<rect x="418" y="296" width="5" height="18" fill="#5a1410"/>
<rect x="419" y="297" width="3" height="16" fill="#e05a46"/>
<rect x="426" y="313" width="1" height="33" fill="#737373"/>
<rect x="424" y="314" width="5" height="14" fill="#5a1410"/>
<rect x="425" y="315" width="3" height="12" fill="#e05a46"/>
<rect x="433" y="325" width="1" height="40" fill="#737373"/>
<rect x="431" y="328" width="5" height="31" fill="#5a1410"/>
<rect x="432" y="329" width="3" height="29" fill="#e05a46"/>
<rect x="439" y="338" width="1" height="24" fill="#737373"/>
<rect x="437" y="338" width="5" height="23" fill="#174f25"/>
<rect x="438" y="339" width="3" height="21" fill="#4caf50"/>
<rect x="446" y="320" width="1" height="24" fill="#737373"/>
<rect x="444" y="328" width="5" height="14" fill="#174f25"/>
<rect x="445" y="329" width="3" height="12" fill="#4caf50"/>
<rect x="452" y="309" width="1" height="25" fill="#737373"/>
<rect x="450" y="312" width="5" height="21" fill="#174f25"/>
<rect x="451" y="313" width="3" height="19" fill="#4caf50"/>
<rect x="459" y="300" width="1" height="19" fill="#737373"/>
<rect x="457" y="301" width="5" height="16" fill="#174f25"/>
<rect x="458" y="302" width="3" height="14" fill="#4caf50"/>
<rect x="465" y="293" width="1" height="13" fill="#737373"/>
<rect x="463" y="296" width="5" height="9" fill="#174f25"/>
<rect x="464" y="297" width="3" height="7" fill="#4caf50"/>
<rect x="472" y="285" width="1" height="21" fill="#737373"/>
<rect x="470" y="290" width="5" height="11" fill="#174f25"/>
<rect x="471" y="291" width="3" height="9" fill="#4caf50"/>
<rect x="478" y="288" width="1" height="49" fill="#737373"/>
<rect x="476" y="291" width="5" height="39" fill="#5a1410"/>
<rect x="477" y="292" width="3" height="37" fill="#e05a46"/>
<rect x="485" y="299" width="1" height="41" fill="#737373"/>
<rect x="483" y="300" width="5" height="30" fill="#174f25"/>
<rect x="484" y="301" width="3" height="28" fill="#4caf50"/>
<rect x="491" y="298" width="1" height="35" fill="#737373"/>
<rect x="489" y="302" width="5" height="18" fill="#5a1410"/>
<rect x="490" y="303" width="3" height="16" fill="#e05a46"/>
<rect x="498" y="318" width="1" height="47" fill="#737373"/>
<rect x="496" y="325" width="5" height="27" fill="#5a1410"/>
<rect x="497" y="326" width="3" height="25" fill="#e05a46"/>
<rect x="504" y="341" width="1" height="56" fill="#737373"/>
<rect x="502" y="352" width="5" height="37" fill="#5a1410"/>
<rect x="503" y="353" width="3" height="35" fill="#e05a46"/>
<rect x="510" y="381" width="1" height="44" fill="#737373"/>
<rect x="508" y="388" width="5" height="5" fill="#174f25"/>
<rect x="509" y="389" width="3" height="3" fill="#4caf50"/>
<rect x="517" y="349" width="1" height="50" fill="#737373"/>
<rect x="515" y="354" width="5" height="38" fill="#174f25"/>
<rect x="516" y="355" width="3" height="36" fill="#4caf50"/>
<rect x="523" y="349" width="1" height="25" fill="#737373"/>
<rect x="521" y="353" width="5" height="4" fill="#174f25"/>
<rect x="522" y="354" width="3" height="2" fill="#4caf50"/>
<rect x="530" y="349" width="1" height="16" fill="#737373"/>
<rect x="528" y="355" width="5" height="5" fill="#5a1410"/>
<rect x="529" y="356" width="3" height="3" fill="#e05a46"/>
<rect x="536" y="350" width="1" height="34" fill="#737373"/>
<rect x="534" y="358" width="5" height="23" fill="#5a1410"/>
<rect x="535" y="359" width="3" height="21" fill="#e05a46"/>
<rect x="543" y="374" width="1" height="46" fill="#737373"/>
<rect x="541" y="382" width="5" height="34" fill="#5a1410"/>
<rect x="542" y="383" width="3" height="32" fill="#e05a46"/>
<rect x="549" y="401" width="1" height="38" fill="#737373"/>
<rect x="547" y="416" width="5" height="7" fill="#5a1410"/>
<rect x="548" y="417" width="3" height="5" fill="#e05a46"/>
<rect x="556" y="384" width="1" height="50" fill="#737373"/>
<rect x="554" y="392" width="5" height="34" fill="#174f25"/>
<rect x="555" y="393" width="3" height="32" fill="#4caf50"/>
<rect x="562" y="389" width="1" height="50" fill="#737373"/>
<rect x="560" y="395" width="5" height="40" fill="#5a1410"/>
<rect x="561" y="396" width="3" height="38" fill="#e05a46"/>
<rect x="569" y="415" width="1" height="36" fill="#737373"/>
<rect x="567" y="422" width="5" height="17" fill="#174f25"/>
<rect x="568" y="423" width="3" height="15" fill="#4caf50"/>
<rect x="575" y="417" width="1" height="24" fill="#737373"/>
<rect x="573" y="424" width="5" height="2" fill="#174f25"/>
<rect x="582" y="413" width="1" height="19" fill="#737373"/>
<rect x="580" y="419" width="5" height="8" fill="#174f25"/>
<rect x="581" y="420" width="3" height="6" fill="#4caf50"/>
<rect x="588" y="419" width="1" height="167" fill="#737373"/>
<rect x="586" y="422" width="5" height="91" fill="#5a1410"/>
<rect x="587" y="423" width="3" height="89" fill="#e05a46"/>
<rect x="595" y="480" width="1" height="81" fill="#737373"/>
<rect x="593" y="487" width="5" height="27" fill="#174f25"/>
<rect x="594" y="488" width="3" height="25" fill="#4caf50"/>
<rect x="601" y="440" width="1" height="53" fill="#737373"/>
<rect x="599" y="453" width="5" height="39" fill="#174f25"/>
<rect x="600" y="454" width="3" height="37" fill="#4caf50"/>
<rect x="607" y="452" width="1" height="43" fill="#737373"/>
<rect x="605" y="455" width="5" height="19" fill="#5a1410"/>
<rect x="606" y="456" width="3" height="17" fill="#e05a46"/>
<rect x="614" y="457" width="1" height="98" fill="#737373"/>
<rect x="612" y="473" width="5" height="76" fill="#5a1410"/>
<rect x="613" y="474" width="3" height="74" fill="#e05a46"/>
<rect x="620" y="548" width="1" height="57" fill="#737373"/>
<rect x="618" y="552" width="5" height="28" fill="#5a1410"/>
<rect x="619" y="553" width="3" height="26" fill="#e05a46"/>
<rect x="627" y="560" width="1" height="32" fill="#737373"/>
<rect x="625" y="569" width="5" height="12" fill="#174f25"/>
<rect x="626" y="570" width="3" height="10" fill="#4caf50"/>
<rect x="633" y="540" width="1" height="35" fill="#737373"/>
<rect x="631" y="551" width="5" height="23" fill="#174f25"/>
<rect x="632" y="552" width="3" height="21" fill="#4caf50"/>
<rect x="640" y="488" width="1" height="79" fill="#737373"/>
<rect x="638" y="520" width="5" height="35" fill="#174f25"/>
<rect x="639" y="521" width="3" height="33" fill="#4caf50"/>
<rect x="646" y="513" width="1" height="25" fill="#737373"/>
<rect x="644" y="525" width="5" height="6" fill="#5a1410"/>
<rect x="645" y="526" width="3" height="4" fill="#e05a46"/>
<rect x="653" y="528" width="1" height="45" fill="#737373"/>
<rect x="651" y="533" width="5" height="39" fill="#5a1410"/>
<rect x="652" y="534" width="3" height="37" fill="#e05a46"/>
<rect x="659" y="555" width="1" height="23" fill="#737373"/>
<rect x="657" y="560" width="5" height="14" fill="#174f25"/>
<rect x="658" y="561" width="3" height="12" fill="#4caf50"/>
<rect x="666" y="556" width="1" height="16" fill="#737373"/>
<rect x="664" y="563" width="5" height="6" fill="#174f25"/>
<rect x="665" y="564" width="3" height="4" fill="#4caf50"/>
<rect x="672" y="548" width="1" height="39" fill="#737373"/>
<rect x="670" y="564" width="5" height="16" fill="#5a1410"/>
<rect x="671" y="565" width="3" height="14" fill="#e05a46"/>
<rect x="679" y="583" width="1" height="42" fill="#737373"/>
<rect x="677" y="583" width="5" height="9" fill="#5a1410"/>
<rect x="678" y="584" width="3" height="7" fill="#e05a46"/>
<rect x="685" y="577" width="1" height="32" fill="#737373"/>
<rect x="683" y="594" width="5" height="9" fill="#5a1410"/>
<rect x="684" y="595" width="3" height="7" fill="#e05a46"/>
<rect x="692" y="568" width="1" height="41" fill="#737373"/>
<rect x="690" y="575" width="5" height="34" fill="#174f25"/>
<rect x="691" y="576" width="3" height="32" fill="#4caf50"/>
<rect x="698" y="523" width="1" height="58" fill="#737373"/>
<rect x="696" y="536" width="5" height="45" fill="#174f25"/>
<rect x="697" y="537" width="3" height="43" fill="#4caf50"/>
<rect x="704" y="491" width="1" height="59" fill="#737373"/>
<rect x="702" y="497" width="5" height="44" fill="#174f25"/>
<rect x="703" y="498" width="3" height="42" fill="#4caf50"/>
<rect x="711" y="458" width="1" height="63" fill="#737373"/>
<rect x="709" y="497" width="5" height="4" fill="#174f25"/>
<rect x="710" y="498" width="3" height="2" fill="#4caf50"/>
<rect x="717" y="489" width="1" height="37" fill="#737373"/>
<rect x="715" y="502" width="5" height="9" fill="#5a1410"/>
<rect x="716" y="503" width="3" height="7" fill="#e05a46"/>
<rect x="724" y="497" width="1" height="37" fill="#737373"/>
<rect x="722" y="502" width="5" height="9" fill="#174f25"/>
<rect x="723" y="503" width="3" height="7" fill="#4caf50"/>
<rect x="730" y="462" width="1" height="44" fill="#737373"/>
<rect x="728" y="464" width="5" height="41" fill="#174f25"/>
<rect x="729" y="465" width="3" height="39" fill="#4caf50"/>
<rect x="737" y="445" width="1" height="43" fill="#737373"/>
<rect x="735" y="469" width="5" height="11" fill="#5a1410"/>
<rect x="736" y="470" width="3" height="9" fill="#e05a46"/>
<rect x="743" y="470" width="1" height="35" fill="#737373"/>
<rect x="741" y="479" width="5" height="12" fill="#5a1410"/>
<rect x="742" y="480" width="3" height="10" fill="#e05a46"/>
<rect x="750" y="459" width="1" height="34" fill="#737373"/>
<rect x="748" y="464" width="5" height="28" fill="#174f25"/>
<rect x="749" y="465" width="3" height="26" fill="#4caf50"/>
<rect x="756" y="419" width="1" height="50" fill="#737373"/>
<rect x="754" y="423" width="5" height="45" fill="#174f25"/>
<rect x="755" y="424" width="3" height="43" fill="#4caf50"/>
<rect x="763" y="383" width="1" height="45" fill="#737373"/>
<rect x="761" y="395" width="5" height="29" fill="#174f25"/>
<rect x="762" y="396" width="3" height="27" fill="#4caf50"/>
<rect x="769" y="390" width="1" height="20" fill="#737373"/>
<rect x="767" y="395" width="5" height="3" fill="#174f25"/>
<rect x="768" y="396" width="3" height="1" fill="#4caf50"/>
<rect x="776" y="375" width="1" height="29" fill="#737373"/>
<rect x="774" y="395" width="5" height="3" fill="#174f25"/>
<rect x="775" y="396" width="3" height="1" fill="#4caf50"/>
<rect x="782" y="390" width="1" height="21" fill="#737373"/>
<rect x="780" y="393" width="5" height="3" fill="#5a1410"/>
<rect x="781" y="394" width="3" height="1" fill="#e05a46"/>
<rect x="789" y="378" width="1" height="52" fill="#737373"/>
<rect x="787" y="388" width="5" height="14" fill="#174f25"/>
<rect x="788" y="389" width="3" height="12" fill="#4caf50"/>
<rect x="795" y="387" width="1" height="52" fill="#737373"/>
<rect x="793" y="391" width="5" height="24" fill="#5a1410"/>
<rect x="794" y="392" width="3" height="22" fill="#e05a46"/>
<rect x="801" y="400" width="1" height="27" fill="#737373"/>
<rect x="799" y="409" width="5" height="10" fill="#174f25"/>
<rect x="800" y="410" width="3" height="8" fill="#4caf50"/>
<rect x="808" y="393" width="1" height="25" fill="#737373"/>
<rect x="806" y="395" width="5" height="19" fill="#174f25"/>
<rect x="807" y="396" width="3" height="17" fill="#4caf50"/>
<rect x="814" y="389" width="1" height="33" fill="#737373"/>
<rect x="812" y="396" width="5" height="20" fill="#5a1410"/>
<rect x="813" y="397" width="3" height="18" fill="#e05a46"/>
<rect x="821" y="401" width="1" height="25" fill="#737373"/>
<rect x="819" y="411" width="5" height="9" fill="#174f25"/>
<rect x="820" y="412" width="3" height="7" fill="#4caf50"/>
<rect x="827" y="402" width="1" height="56" fill="#737373"/>
<rect x="825" y="413" width="5" height="18" fill="#5a1410"/>
<rect x="826" y="414" width="3" height="16" fill="#e05a46"/>
<rect x="834" y="425" width="1" height="35" fill="#737373"/>
<rect x="832" y="432" width="5" height="15" fill="#5a1410"/>
<rect x="833" y="433" width="3" height="13" fill="#e05a46"/>
<rect x="840" y="382" width="1" height="68" fill="#737373"/>
<rect x="838" y="388" width="5" height="59" fill="#174f25"/>
<rect x="839" y="389" width="3" height="57" fill="#4caf50"/>
<rect x="847" y="373" width="1" height="18" fill="#737373"/>
<rect x="845" y="379" width="5" height="10" fill="#174f25"/>
<rect x="846" y="380" width="3" height="8" fill="#4caf50"/>
<rect x="853" y="376" width="1" height="29" fill="#737373"/>
<rect x="851" y="380" width="5" height="21" fill="#5a1410"/>
<rect x="852" y="381" width="3" height="19" fill="#e05a46"/>
<rect x="860" y="391" width="1" height="20" fill="#737373"/>
<rect x="858" y="394" width="5" height="9" fill="#174f25"/>
<rect x="859" y="395" width="3" height="7" fill="#4caf50"/>
<rect x="866" y="356" width="1" height="45" fill="#737373"/>
<rect x="864" y="360" width="5" height="37" fill="#174f25"/>
<rect x="865" y="361" width="3" height="35" fill="#4caf50"/>
<rect x="873" y="353" width="1" height="17" fill="#737373"/>
<rect x="871" y="361" width="5" height="2" fill="#5a1410"/>
<rect x="879" y="356" width="1" height="16" fill="#737373"/>
<rect x="877" y="360" width="5" height="4" fill="#174f25"/>
<rect x="878" y="361" width="3" height="2" fill="#4caf50"/>
<rect x="885" y="314" width="1" height="49" fill="#737373"/>
<rect x="883" y="317" width="5" height="45" fill="#174f25"/>
<rect x="884" y="318" width="3" height="43" fill="#4caf50"/>
<rect x="892" y="316" width="1" height="15" fill="#737373"/>
<rect x="890" y="317" width="5" height="9" fill="#5a1410"/>
<rect x="891" y="318" width="3" height="7" fill="#e05a46"/>
<rect x="898" y="322" width="1" height="33" fill="#737373"/>
<rect x="896" y="323" width="5" height="21" fill="#5a1410"/>
<rect x="897" y="324" width="3" height="19" fill="#e05a46"/>
<rect x="905" y="321" width="1" height="25" fill="#737373"/>
<rect x="903" y="334" width="5" height="10" fill="#174f25"/>
<rect x="904" y="335" width="3" height="8" fill="#4caf50"/>
<rect x="911" y="335" width="1" height="10" fill="#737373"/>
<rect x="909" y="336" width="5" height="4" fill="#174f25"/>
<rect x="910" y="337" width="3" height="2" fill="#4caf50"/>
<rect x="918" y="327" width="1" height="24" fill="#737373"/>
<rect x="916" y="336" width="5" height="7" fill="#5a1410"/>
<rect x="917" y="337" width="3" height="5" fill="#e05a46"/>
<rect x="924" y="329" width="1" height="17" fill="#737373"/>
<rect x="922" y="335" width="5" height="8" fill="#174f25"/>
<rect x="923" y="336" width="3" height="6" fill="#4caf50"/>
<rect x="931" y="320" width="1" height="21" fill="#737373"/>
<rect x="929" y="325" width="5" height="12" fill="#174f25"/>
<rect x="930" y="326" width="3" height="10" fill="#4caf50"/>
<rect x="937" y="318" width="1" height="15" fill="#737373"/>
<rect x="935" y="326" width="5" height="2" fill="#5a1410"/>
<rect x="944" y="316" width="1" height="17" fill="#737373"/>
<rect x="942" y="320" width="5" height="7" fill="#174f25"/>
<rect x="943" y="321" width="3" height="5" fill="#4caf50"/>
<rect x="950" y="319" width="1" height="20" fill="#737373"/>
<rect x="948" y="320" width="5" height="7" fill="#5a1410"/>
<rect x="949" y="321" width="3" height="5" fill="#e05a46"/>
<rect x="957" y="316" width="1" height="14" fill="#737373"/>
<rect x="955" y="320" width="5" height="7" fill="#174f25"/>
<rect x="956" y="321" width="3" height="5" fill="#4caf50"/>
<rect x="963" y="319" width="1" height="46" fill="#737373"/>
<rect x="961" y="320" width="5" height="25" fill="#5a1410"/>
<rect x="962" y="321" width="3" height="23" fill="#e05a46"/>
<rect x="970" y="319" width="1" height="26" fill="#737373"/>
<rect x="968" y="336" width="5" height="8" fill="#174f25"/>
<rect x="969" y="337" width="3" height="6" fill="#4caf50"/>
<rect x="976" y="324" width="1" height="22" fill="#737373"/>
<rect x="974" y="326" width="5" height="17" fill="#174f25"/>
<rect x="975" y="327" width="3" height="15" fill="#4caf50"/>
<rect x="982" y="324" width="1" height="26" fill="#737373"/>
<rect x="980" y="326" width="5" height="18" fill="#5a1410"/>
<rect x="981" y="327" width="3" height="16" fill="#e05a46"/>
<rect x="989" y="339" width="1" height="28" fill="#737373"/>
<rect x="987" y="343" width="5" height="18" fill="#5a1410"/>
<rect x="988" y="344" width="3" height="16" fill="#e05a46"/>
<rect x="995" y="356" width="1" height="56" fill="#737373"/>
<rect x="993" y="359" width="5" height="39" fill="#5a1410"/>
<rect x="994" y="360" width="3" height="37" fill="#e05a46"/>
<rect x="1002" y="395" width="1" height="48" fill="#737373"/>
<rect x="1000" y="398" width="5" height="30" fill="#5a1410"/>
<rect x="1001" y="399" width="3" height="28" fill="#e05a46"/>
<rect x="1008" y="424" width="1" height="20" fill="#737373"/>
<rect x="1006" y="429" width="5" height="2" fill="#5a1410"/>
<rect x="1015" y="394" width="1" height="46" fill="#737373"/>
<rect x="1013" y="409" width="5" height="27" fill="#174f25"/>
<rect x="1014" y="410" width="3" height="25" fill="#4caf50"/>
<rect x="1021" y="397" width="1" height="25" fill="#737373"/>
<rect x="1019" y="406" width="5" height="6" fill="#174f25"/>
<rect x="1020" y="407" width="3" height="4" fill="#4caf50"/>
<rect x="1028" y="389" width="1" height="27" fill="#737373"/>
<rect x="1026" y="391" width="5" height="22" fill="#174f25"/>
<rect x="1027" y="392" width="3" height="20" fill="#4caf50"/>
<rect x="1034" y="365" width="1" height="34" fill="#737373"/>
<rect x="1032" y="368" width="5" height="24" fill="#174f25"/>
<rect x="1033" y="369" width="3" height="22" fill="#4caf50"/>
<rect x="1041" y="360" width="1" height="13" fill="#737373"/>
<rect x="1039" y="365" width="5" height="8" fill="#174f25"/>
<rect x="1040" y="366" width="3" height="6" fill="#4caf50"/>
<rect x="1047" y="312" width="1" height="58" fill="#737373"/>
<rect x="1045" y="315" width="5" height="54" fill="#174f25"/>
<rect x="1046" y="316" width="3" height="52" fill="#4caf50"/>
<rect x="1054" y="287" width="1" height="33" fill="#737373"/>
<rect x="1052" y="304" width="5" height="13" fill="#174f25"/>
<rect x="1053" y="305" width="3" height="11" fill="#4caf50"/>
<rect x="1060" y="289" width="1" height="45" fill="#737373"/>
<rect x="1058" y="293" width="5" height="12" fill="#174f25"/>
<rect x="1059" y="294" width="3" height="10" fill="#4caf50"/>
<rect x="1067" y="286" width="1" height="26" fill="#737373"/>
<rect x="1065" y="294" width="5" height="7" fill="#5a1410"/>
<rect x="1066" y="295" width="3" height="5" fill="#e05a46"/>
<rect x="1073" y="295" width="1" height="16" fill="#737373"/>
<rect x="1071" y="299" width="5" height="5" fill="#174f25"/>
<rect x="1072" y="300" width="3" height="3" fill="#4caf50"/>
<rect x="1079" y="294" width="1" height="12" fill="#737373"/>
<rect x="1077" y="295" width="5" height="6" fill="#174f25"/>
<rect x="1078" y="296" width="3" height="4" fill="#4caf50"/>
<rect x="1086" y="284" width="1" height="27" fill="#737373"/>
<rect x="1084" y="296" width="5" height="7" fill="#5a1410"/>
<rect x="1085" y="297" width="3" height="5" fill="#e05a46"/>
<rect x="1092" y="295" width="1" height="13" fill="#737373"/>
<rect x="1090" y="300" width="5" height="6" fill="#174f25"/>
<rect x="1091" y="301" width="3" height="4" fill="#4caf50"/>
<rect x="1099" y="296" width="1" height="11" fill="#737373"/>
<rect x="1097" y="300" width="5" height="3" fill="#5a1410"/>
<rect x="1098" y="301" width="3" height="1" fill="#e05a46"/>
<rect x="1105" y="288" width="1" height="18" fill="#737373"/>
<rect x="1103" y="292" width="5" height="14" fill="#174f25"/>
<rect x="1104" y="293" width="3" height="12" fill="#4caf50"/>
<rect x="1112" y="288" width="1" height="11" fill="#737373"/>
<rect x="1110" y="293" width="5" height="4" fill="#5a1410"/>
<rect x="1111" y="294" width="3" height="2" fill="#e05a46"/>
<rect x="1118" y="283" width="1" height="16" fill="#737373"/>
<rect x="1116" y="291" width="5" height="7" fill="#174f25"/>
<rect x="1117" y="292" width="3" height="5" fill="#4caf50"/>
<rect x="1125" y="289" width="1" height="20" fill="#737373"/>
<rect x="1123" y="293" width="5" height="10" fill="#5a1410"/>
<rect x="1124" y="294" width="3" height="8" fill="#e05a46"/>
<rect x="1131" y="289" width="1" height="29" fill="#737373"/>
<rect x="1129" y="293" width="5" height="11" fill="#174f25"/>
<rect x="1130" y="294" width="3" height="9" fill="#4caf50"/>
<rect x="1138" y="284" width="1" height="13" fill="#737373"/>
<rect x="1136" y="287" width="5" height="10" fill="#174f25"/>
<rect x="1137" y="288" width="3" height="8" fill="#4caf50"/>
<rect x="1144" y="284" width="1" height="11" fill="#737373"/>
<rect x="1142" y="289" width="5" height="2" fill="#174f25"/>
<rect x="1151" y="247" width="1" height="46" fill="#737373"/>
<rect x="1149" y="248" width="5" height="45" fill="#174f25"/>
<rect x="1150" y="249" width="3" height="43" fill="#4caf50"/>
<rect x="1157" y="244" width="1" height="17" fill="#737373"/>
<rect x="1155" y="245" width="5" height="6" fill="#174f25"/>
<rect x="1156" y="246" width="3" height="4" fill="#4caf50"/>
<rect x="1164" y="241" width="1" height="25" fill="#737373"/>
<rect x="1162" y="244" width="5" height="4" fill="#174f25"/>
<rect x="1163" y="245" width="3" height="2" fill="#4caf50"/>
<rect x="1170" y="210" width="1" height="46" fill="#737373"/>
<rect x="1168" y="216" width="5" height="38" fill="#174f25"/>
<rect x="1169" y="217" width="3" height="36" fill="#4caf50"/>
<rect x="1176" y="200" width="1" height="26" fill="#737373"/>
<rect x="1174" y="202" width="5" height="16" fill="#174f25"/>
<rect x="1175" y="203" width="3" height="14" fill="#4caf50"/>
<rect x="1183" y="202" width="1" height="18" fill="#737373"/>
<rect x="1181" y="205" width="5" height="9" fill="#5a1410"/>
<rect x="1182" y="206" width="3" height="7" fill="#e05a46"/>
<rect x="1189" y="204" width="1" height="22" fill="#737373"/>
<rect x="1187" y="204" width="5" height="12" fill="#174f25"/>
<rect x="1188" y="205" width="3" height="10" fill="#4caf50"/>
<rect x="1196" y="204" width="1" height="31" fill="#737373"/>
<rect x="1194" y="205" width="5" height="2" fill="#174f25"/>
<rect x="1202" y="198" width="1" height="16" fill="#737373"/>
<rect x="1200" y="199" width="5" height="9" fill="#174f25"/>
<rect x="1201" y="200" width="3" height="7" fill="#4caf50"/>
<rect x="1209" y="198" width="1" height="10" fill="#737373"/>
<rect x="1207" y="198" width="5" height="2" fill="#174f25"/>
<rect x="1215" y="183" width="1" height="19" fill="#737373"/>
<rect x="1213" y="185" width="5" height="17" fill="#174f25"/>
<rect x="1214" y="186" width="3" height="15" fill="#4caf50"/>
<rect x="1222" y="171" width="1" height="19" fill="#737373"/>
<rect x="1220" y="175" width="5" height="13" fill="#174f25"/>
<rect x="1221" y="176" width="3" height="11" fill="#4caf50"/>
<rect x="1228" y="94" width="1" height="102" fill="#737373"/>
<rect x="1226" y="98" width="5" height="80" fill="#174f25"/>
<rect x="1227" y="99" width="3" height="78" fill="#4caf50"/>
<rect x="1235" y="42" width="1" height="167" fill="#737373"/>
<rect x="1233" y="112" width="5" height="44" fill="#5a1410"/>
<rect x="1234" y="113" width="3" height="42" fill="#e05a46"/>
<rect x="1241" y="111" width="1" height="53" fill="#737373"/>
<rect x="1239" y="112" width="5" height="46" fill="#174f25"/>
<rect x="1240" y="113" width="3" height="44" fill="#4caf50"/>
<rect x="1248" y="107" width="1" height="147" fill="#737373"/>
<rect x="1246" y="112" width="5" height="101" fill="#5a1410"/>
<rect x="1247" y="113" width="3" height="99" fill="#e05a46"/>
<rect x="1254" y="157" width="1" height="94" fill="#737373"/>
<rect x="1252" y="211" width="5" height="25" fill="#5a1410"/>
<rect x="1253" y="212" width="3" height="23" fill="#e05a46"/>
<rect x="1261" y="232" width="1" height="53" fill="#737373"/>
<rect x="1259" y="236" width="5" height="23" fill="#5a1410"/>
<rect x="1260" y="237" width="3" height="21" fill="#e05a46"/>
<rect x="1267" y="223" width="1" height="38" fill="#737373"/>
<rect x="1265" y="228" width="5" height="28" fill="#174f25"/>
<rect x="1266" y="229" width="3" height="26" fill="#4caf50"/>
<rect x="1273" y="202" width="1" height="27" fill="#737373"/>
<rect x="1271" y="203" width="5" height="26" fill="#174f25"/>
<rect x="1272" y="204" width="3" height="24" fill="#4caf50"/>
<rect x="1280" y="174" width="1" height="38" fill="#737373"/>
<rect x="1278" y="179" width="5" height="33" fill="#174f25"/>
<rect x="1279" y="180" width="3" height="31" fill="#4caf50"/>
<rect x="1286" y="166" width="1" height="24" fill="#737373"/>
<rect x="1284" y="182" width="5" height="3" fill="#174f25"/>
<rect x="1285" y="183" width="3" height="1" fill="#4caf50"/>
<rect x="1293" y="168" width="1" height="19" fill="#737373"/>
<rect x="1291" y="171" width="5" height="13" fill="#174f25"/>
<rect x="1292" y="172" width="3" height="11" fill="#4caf50"/>
<rect x="1299" y="158" width="1" height="23" fill="#737373"/>
<rect x="1297" y="159" width="5" height="18" fill="#174f25"/>
<rect x="1298" y="160" width="3" height="16" fill="#4caf50"/>
<rect x="1306" y="143" width="1" height="21" fill="#737373"/>
<rect x="1304" y="152" width="5" height="12" fill="#174f25"/>
<rect x="1305" y="153" width="3" height="10" fill="#4caf50"/>
<rect x="1312" y="149" width="1" height="55" fill="#737373"/>
<rect x="1310" y="154" width="5" height="45" fill="#5a1410"/>
<rect x="1311" y="155" width="3" height="43" fill="#e05a46"/>
<rect x="1319" y="178" width="1" height="58" fill="#737373"/>
<rect x="1317" y="183" width="5" height="17" fill="#174f25"/>
<rect x="1318" y="184" width="3" height="15" fill="#4caf50"/>
<rect x="1325" y="166" width="1" height="22" fill="#737373"/>
<rect x="1323" y="174" width="5" height="12" fill="#174f25"/>
<rect x="1324" y="175" width="3" height="10" fill="#4caf50"/>
<rect x="1332" y="156" width="1" height="24" fill="#737373"/>
<rect x="1330" y="157" width="5" height="22" fill="#174f25"/>
<rect x="1331" y="158" width="3" height="20" fill="#4caf50"/>
<rect x="1338" y="149" width="1" height="22" fill="#737373"/>
<rect x="1336" y="158" width="5" height="4" fill="#5a1410"/>
<rect x="1337" y="159" width="3" height="2" fill="#e05a46"/>
<rect x="1345" y="140" width="1" height="23" fill="#737373"/>
<rect x="1343" y="141" width="5" height="22" fill="#174f25"/>
<rect x="1344" y="142" width="3" height="20" fill="#4caf50"/>
<rect x="1351" y="130" width="1" height="21" fill="#737373"/>
<rect x="1349" y="138" width="5" height="8" fill="#174f25"/>
<rect x="1350" y="139" width="3" height="6" fill="#4caf50"/>
<rect x="1357" y="131" width="1" height="11" fill="#737373"/>
<rect x="1355" y="137" width="5" height="4" fill="#174f25"/>
<rect x="1356" y="138" width="3" height="2" fill="#4caf50"/>
<rect x="1364" y="137" width="1" height="10" fill="#737373"/>
<rect x="1362" y="138" width="5" height="4" fill="#174f25"/>
<rect x="1363" y="139" width="3" height="2" fill="#4caf50"/>
<rect x="1370" y="130" width="1" height="19" fill="#737373"/>
<rect x="1368" y="130" width="5" height="13" fill="#174f25"/>
<rect x="1369" y="131" width="3" height="11" fill="#4caf50"/>
<rect x="1377" y="115" width="1" height="25" fill="#737373"/>
<rect x="1375" y="116" width="5" height="18" fill="#174f25"/>
<rect x="1376" y="117" width="3" height="16" fill="#4caf50"/>
<rect x="1383" y="116" width="1" height="39" fill="#737373"/>
<rect x="1381" y="119" width="5" height="24" fill="#5a1410"/>
<rect x="1382" y="120" width="3" height="22" fill="#e05a46"/>
<rect x="1390" y="125" width="1" height="25" fill="#737373"/>
<rect x="1388" y="128" width="5" height="17" fill="#174f25"/>
<rect x="1389" y="129" width="3" height="15" fill="#4caf50"/>
<rect x="1396" y="122" width="1" height="46" fill="#737373"/>
<rect x="1394" y="133" width="5" height="32" fill="#5a1410"/>
<rect x="1395" y="134" width="3" height="30" fill="#e05a46"/>
<rect x="1403" y="151" width="1" height="28" fill="#737373"/>
<rect x="1401" y="164" width="5" height="14" fill="#5a1410"/>
<rect x="1402" y="165" width="3" height="12" fill="#e05a46"/>
<rect x="1442" y="2" width="1" height="829" fill="#4f4f4f"/>
<rect x="3" y="803" width="1499" height="1" fill="#4f4f4f"/>
<text x="1450.5" y="53.0" font-size="12" fill="#4a4a4a" textLength="41.5" lengthAdjust="spacingAndGlyphs" font-family='"Liberation Sans", sans-serif'>160.000</text>
<text x="1450.5" y="112.0" font-size="12" fill="#4a4a4a" textLength="41.5" lengthAdjust="spacingAndGlyphs" font-family='"Liberation Sans", sans-serif'>158.000</text>
<text x="1450.5" y="170.0" font-size="12" fill="#4a4a4a" textLength="41.5" lengthAdjust="spacingAndGlyphs" font-family='"Liberation Sans", sans-serif'>156.000</text>
<text x="1450.5" y="228.0" font-size="12" fill="#4a4a4a" textLength="41.5" lengthAdjust="spacingAndGlyphs" font-family='"Liberation Sans", sans-serif'>154.000</text>
<text x="1450.5" y="287.0" font-size="12" fill="#4a4a4a" textLength="41.5" lengthAdjust="spacingAndGlyphs" font-family='"Liberation Sans", sans-serif'>152.000</text>
<text x="1450.5" y="345.0" font-size="12" fill="#4a4a4a" textLength="41.5" lengthAdjust="spacingAndGlyphs" font-family='"Liberation Sans", sans-serif'>150.000</text>
<text x="1450.5" y="404.0" font-size="12" fill="#4a4a4a" textLength="41.5" lengthAdjust="spacingAndGlyphs" font-family='"Liberation Sans", sans-serif'>148.000</text>
<text x="1450.5" y="462.0" font-size="12" fill="#4a4a4a" textLength="41.5" lengthAdjust="spacingAndGlyphs" font-family='"Liberation Sans", sans-serif'>146.000</text>
<text x="1450.5" y="521.0" font-size="12" fill="#4a4a4a" textLength="41.5" lengthAdjust="spacingAndGlyphs" font-family='"Liberation Sans", sans-serif'>144.000</text>
<text x="1450.5" y="579.0" font-size="12" fill="#4a4a4a" textLength="41.5" lengthAdjust="spacingAndGlyphs" font-family='"Liberation Sans", sans-serif'>142.000</text>
<text x="1450" y="637" font-size="12" fill="#4a4a4a" font-family='"Liberation Sans", sans-serif'>140.000</text>
<text x="1450" y="696.5" font-size="12" fill="#4a4a4a" font-family='"Liberation Sans", sans-serif'>1.000</text>
<text x="1450" y="718" font-size="12" fill="#4a4a4a" font-family='"Liberation Sans", sans-serif'>250.00</text>
<text x="1450" y="753.5" font-size="12" fill="#4a4a4a" font-family='"Liberation Sans", sans-serif'>0.00</text>
<text x="1447" y="790" font-size="12" fill="#4a4a4a" font-family='"Liberation Sans", sans-serif'>−250.00</text>
<path d="M1443 276 h53 a2 2 0 0 1 2 2 v13 a2 2 0 0 1 -2 2 h-53 z" fill="#000"/>
<text x="1450" y="288.5" font-size="12" font-weight="bold" fill="#fff" textLength="41.6" lengthAdjust="spacingAndGlyphs" font-family='"Liberation Sans", sans-serif'>151.916</text>
<path d="M1443 435 h53 a2 2 0 0 1 2 2 v13 a2 2 0 0 1 -2 2 h-53 z" fill="#000"/>
<text x="1450" y="447.5" font-size="12" font-weight="bold" fill="#fff" textLength="41.6" lengthAdjust="spacingAndGlyphs" font-family='"Liberation Sans", sans-serif'>146.474</text>
<path d="M1443 477 h53 a2 2 0 0 1 2 2 v13 a2 2 0 0 1 -2 2 h-53 z" fill="#000"/>
<text x="1450" y="489.5" font-size="12" font-weight="bold" fill="#fff" textLength="41.6" lengthAdjust="spacingAndGlyphs" font-family='"Liberation Sans", sans-serif'>145.054</text>
<path d="M1443 616 h53 a2 2 0 0 1 2 2 v13 a2 2 0 0 1 -2 2 h-53 z" fill="#000"/>
<text x="1450" y="628.5" font-size="12" font-weight="bold" fill="#fff" textLength="41.6" lengthAdjust="spacingAndGlyphs" font-family='"Liberation Sans", sans-serif'>140.286</text>
<text x="142.5" y="821" font-size="12" fill="#4a4a4a" text-anchor="middle" font-family='"Liberation Sans", sans-serif'>Sep</text>
<text x="278.5" y="821" font-size="12" fill="#4a4a4a" text-anchor="middle" font-family='"Liberation Sans", sans-serif'>Oct</text>
<text x="420.5" y="821" font-size="12" fill="#4a4a4a" text-anchor="middle" font-family='"Liberation Sans", sans-serif'>Nov</text>
<text x="562.5" y="821" font-size="12" fill="#4a4a4a" text-anchor="middle" font-family='"Liberation Sans", sans-serif'>Dec</text>
<text x="692.5" y="821" font-size="12" fill="#4a4a4a" text-anchor="middle" font-family='"Liberation Sans", sans-serif'>2024</text>
<text x="834.5" y="821" font-size="12" fill="#4a4a4a" text-anchor="middle" font-family='"Liberation Sans", sans-serif'>Feb</text>
<text x="970.5" y="821" font-size="12" fill="#4a4a4a" text-anchor="middle" font-family='"Liberation Sans", sans-serif'>Mar</text>
<text x="1105.5" y="821" font-size="12" fill="#4a4a4a" text-anchor="middle" font-family='"Liberation Sans", sans-serif'>Apr</text>
<text x="1248.5" y="821" font-size="12" fill="#4a4a4a" text-anchor="middle" font-family='"Liberation Sans", sans-serif'>May</text>
<text x="1396.5" y="821" font-size="12" fill="#4a4a4a" text-anchor="middle" font-family='"Liberation Sans", sans-serif'>Jun</text>
<g shape-rendering="geometricPrecision">
<circle cx="24.2" cy="14.7" r="5.6" fill="#f2f4f7"/>
<circle cx="24.2" cy="14.7" r="4.2" fill="#ffffff"/>
<circle cx="24" cy="14.6" r="2.6" fill="#f04a5a"/>
<circle cx="18" cy="20.8" r="7.3" fill="#ffffff"/>
<mask id="usmask" maskUnits="userSpaceOnUse" x="0" y="0" width="40" height="40"><circle cx="18" cy="20.8" r="6.1" fill="#fff"/></mask>
<g mask="url(#usmask)">
<rect x="11" y="14" width="14" height="14" fill="#ffffff"/>
<rect x="11" y="14" width="14" height="3.4" fill="#ef4444"/>
<rect x="11" y="19.3" width="14" height="2.6" fill="#ef3b36"/>
<rect x="11" y="24" width="14" height="4" fill="#ef4444"/>
<rect x="11" y="14" width="8" height="8" fill="#1e88e5"/>
<circle cx="13.6" cy="16.6" r="0.55" fill="#e3f0fb"/>
<circle cx="13.6" cy="18.5" r="0.55" fill="#e3f0fb"/>
<circle cx="13.6" cy="20.4" r="0.55" fill="#e3f0fb"/>
<circle cx="15.6" cy="16.6" r="0.55" fill="#e3f0fb"/>
<circle cx="15.6" cy="18.5" r="0.55" fill="#e3f0fb"/>
<circle cx="15.6" cy="20.4" r="0.55" fill="#e3f0fb"/>
<circle cx="17.6" cy="16.6" r="0.55" fill="#e3f0fb"/>
<circle cx="17.6" cy="18.5" r="0.55" fill="#e3f0fb"/>
<circle cx="17.6" cy="20.4" r="0.55" fill="#e3f0fb"/>
</g>
<circle cx="390" cy="18" r="8.5" fill="#d5efe9"/>
<circle cx="390" cy="18" r="4" fill="#089981"/>
<rect x="11.5" y="34.5" width="60.5" height="23" rx="4" fill="#fff" stroke="#f23645" stroke-width="1"/>
<rect x="103.5" y="34.5" width="59.5" height="23" rx="4" fill="#fff" stroke="#2962ff" stroke-width="1"/>
<rect x="12.5" y="88.5" width="28" height="20" rx="3" fill="#fff" stroke="#d6d9e0" stroke-width="1"/>
<path d="M22.3 100.5 L26.5 96.6 L30.7 100.5" fill="none" stroke="#131722" stroke-width="1.6"/>
<rect x="1446.5" y="6.5" width="51" height="25" rx="4" fill="#fff" stroke="#e0e3eb" stroke-width="1"/>
<path d="M1488.2 18.3 L1490.6 20.4 L1493 18.3" fill="none" stroke="#131722" stroke-width="1.4"/>
</g>
<text x="34.5" y="24" font-size="16" fill="#525252" font-family='"Liberation Sans", sans-serif' textLength="331" lengthAdjust="spacingAndGlyphs">U.S. Dollar / Japanese Yen · 1D · PEPPERSTONE</text>
<text x="414.5" y="23" font-size="13" fill="#5d5d5d" font-family='"Liberation Sans", sans-serif'>O</text>
<text x="423.8" y="23" font-size="13" fill="#7a2323" font-family='"Liberation Sans", sans-serif' textLength="45.7" lengthAdjust="spacingAndGlyphs">156.026</text>
<text x="476.1" y="23" font-size="13" fill="#5d5d5d" font-family='"Liberation Sans", sans-serif'>H</text>
<text x="484.9" y="23" font-size="13" fill="#7a2323" font-family='"Liberation Sans", sans-serif' textLength="45.7" lengthAdjust="spacingAndGlyphs">156.486</text>
<text x="537.3" y="23" font-size="13" fill="#5d5d5d" font-family='"Liberation Sans", sans-serif'>L</text>
<text x="544.7" y="23" font-size="13" fill="#7a2323" font-family='"Liberation Sans", sans-serif' textLength="44.4" lengthAdjust="spacingAndGlyphs">155.531</text>
<text x="596.5" y="23" font-size="13" fill="#5d5d5d" font-family='"Liberation Sans", sans-serif'>C</text>
<text x="605.8" y="23" font-size="13" fill="#7a2323" font-family='"Liberation Sans", sans-serif' textLength="44.4" lengthAdjust="spacingAndGlyphs">155.581</text>
<text x="657.1" y="23" font-size="13" fill="#7a2323" font-family='"Liberation Sans", sans-serif' textLength="38.3" lengthAdjust="spacingAndGlyphs">−0.490</text>
<text x="700.2" y="23" font-size="13" fill="#7a2323" font-family='"Liberation Sans", sans-serif' textLength="48.4" lengthAdjust="spacingAndGlyphs">(−0.31%)</text>
<text x="19.7" y="51.2" font-size="13" fill="#f23645" font-family='"Liberation Sans", sans-serif'>155.58<tspan font-size="10" dy="-3">5</tspan></text>
<text x="80" y="51" font-size="12" fill="#131722" font-family='"Liberation Sans", sans-serif' textLength="15" lengthAdjust="spacingAndGlyphs">0.2</text>
<text x="111.7" y="51.2" font-size="13" fill="#2962ff" font-family='"Liberation Sans", sans-serif'>155.58<tspan font-size="10" dy="-3">7</tspan></text>
<text x="12" y="79" font-size="13" fill="#4d4d4d" font-family='"Liberation Sans", sans-serif' textLength="383" lengthAdjust="spacingAndGlyphs">MA Ribbon SMA close 20 SMA close 50 SMA close 100 SMA close 200</text>
<text x="404" y="79" font-size="13" fill="#f23645" font-family='"Liberation Sans", sans-serif' textLength="45" lengthAdjust="spacingAndGlyphs">156.304</text>
<text x="456" y="79" font-size="13" fill="#2962ff" font-family='"Liberation Sans", sans-serif' textLength="44" lengthAdjust="spacingAndGlyphs">154.729</text>
<text x="507" y="79" font-size="12" fill="#131722" font-family='"Liberation Sans", sans-serif' textLength="7" lengthAdjust="spacingAndGlyphs">∅</text>
<text x="520" y="79" font-size="13" fill="#131722" font-family='"Liberation Sans", sans-serif' textLength="46" lengthAdjust="spacingAndGlyphs">149.718</text>
<text x="1450" y="23.2" font-size="13" fill="#131722" font-family='"Liberation Sans", sans-serif' textLength="19.5" lengthAdjust="spacingAndGlyphs">JPY</text>
<rect x="9" y="676" width="114" height="16" rx="3" fill="#fff" fill-opacity="0.65"/>
<rect x="9" y="718" width="154" height="16" rx="3" fill="#fff" fill-opacity="0.65"/>
<text x="12.3" y="688" font-size="12" fill="#4d4d4d" font-family='"Liberation Sans", sans-serif' textLength="67" lengthAdjust="spacingAndGlyphs">ATR 14 RMA</text>
<text x="88.7" y="688" font-size="12" fill="#c62828" font-family='"Liberation Sans", sans-serif' textLength="30.3" lengthAdjust="spacingAndGlyphs">1.072</text>
<text x="12" y="730.5" font-size="12" fill="#4d4d4d" font-family='"Liberation Sans", sans-serif' textLength="101.6" lengthAdjust="spacingAndGlyphs">CCI 20 hlc3 SMA 5</text>
<text x="122.6" y="730.5" font-size="12" fill="#2962ff" font-family='"Liberation Sans", sans-serif' textLength="37.4" lengthAdjust="spacingAndGlyphs">−41.42</text>
<g fill="#131722" shape-rendering="geometricPrecision"><path d="M14.8 774 h11.5 v15 h-5.7 v-9.6 h-5.8 z"/><circle cx="31.8" cy="777" r="2.9"/><path d="M37.5 774 h7.3 l-6.6 15 h-7.3 z"/></g>
<defs><filter id="wsh" x="-10%" y="-20%" width="120%" height="140%"><feGaussianBlur in="SourceAlpha" stdDeviation="1.0" result="b"/><feOffset in="b" dx="-2" dy="2" result="o"/><feFlood flood-color="#3c3c3c" flood-opacity="0.9"/><feComposite in2="o" operator="in" result="s"/><feMerge><feMergeNode in="s"/><feMergeNode in="SourceGraphic"/></feMerge></filter><filter id="bsh" x="-20%" y="-20%" width="140%" height="140%"><feOffset in="SourceAlpha" dx="2" dy="2" result="o"/><feFlood flood-color="#8797c9"/><feComposite in2="o" operator="in" result="s"/><feMerge><feMergeNode in="s"/><feMergeNode in="SourceGraphic"/></feMerge></filter></defs>
<g filter="url(#wsh)" opacity="0.78" shape-rendering="geometricPrecision">
<g transform="translate(170.3 0) skewX(-12.5)" fill="#ffffff">
<path d="M1275 739 H1281 V749 H1275 Z M1266 748 H1293 V755 H1266 Z M1274 748 H1281 V773 H1274 Z M1262 766 H1286 V773 H1262 Z M1320 740 H1383 V747.5 H1320 Z M1328 740 H1335 V761 H1328 Z M1321 761 H1383 V769.6 H1321 Z M1323 777 H1366 V784.3 H1323 Z M1375.5 740 H1383 V794 H1375.5 Z M1350 787 H1383 V794 H1350 Z M1376 741 H1384 V781 H1376 Z M1376 741 H1407 V749 H1376 Z M1400 741 H1407 V781 H1400 Z M1389 752 H1394 V776 H1389 Z M1408 746 H1444 V753 H1408 Z M1432 738 H1440 V793 H1432 Z M1418 786 H1440 V793 H1418 Z M1411 741 H1417 V780 H1411 Z M1465 741 H1500 V748 H1465 Z M1468 760 H1496 V767 H1468 Z M1463 770 H1500 V776.4 H1463 Z M1478 776 H1485 V793 H1478 Z M1440 786 H1496 V793 H1440 Z M1274 773 L1281 773 L1268 793 L1260 793 Z M1382 781 L1390 781 L1380 794 L1372 794 Z M1398 783 L1405 783 L1408 793 L1401 793 Z M1428 755 L1435 755 L1418 792 L1411 792 Z"/>
<path d="M1282 749 H1320 V793 H1282 Z M1288 758.6 H1314 V772 H1288 Z M1288 775.5 H1314 V786 H1288 Z" fill-rule="evenodd"/>
<path d="M1450 738 L1442 756 L1456 756 L1440 776 L1458 772" fill="none" stroke="#ffffff" stroke-width="6.5" stroke-linejoin="miter" stroke-linecap="butt"/>
<path d="M1438 788 L1460 784" fill="none" stroke="#ffffff" stroke-width="6.5" stroke-linejoin="miter" stroke-linecap="butt"/>
<path d="M1497 744 L1471 764" fill="none" stroke="#ffffff" stroke-width="7" stroke-linejoin="miter" stroke-linecap="butt"/>
<path d="M1467 743 L1456 770" fill="none" stroke="#ffffff" stroke-width="7" stroke-linejoin="miter" stroke-linecap="butt"/>
</g></g>
<g filter="url(#bsh)">
<text x="1271" y="827" font-size="32" font-weight="bold" font-style="italic" fill="#8ac6fd" stroke="#8ac6fd" stroke-width="1.6" stroke-linejoin="round" font-family='"Liberation Sans", sans-serif'>z</text>
<text x="1298" y="827" font-size="32" font-weight="bold" font-style="italic" fill="#8ac6fd" stroke="#8ac6fd" stroke-width="1.6" stroke-linejoin="round" font-family='"Liberation Sans", sans-serif'>z</text>
<text x="1327" y="827" font-size="32" font-weight="bold" font-style="italic" fill="#8ac6fd" stroke="#8ac6fd" stroke-width="1.6" stroke-linejoin="round" font-family='"Liberation Sans", sans-serif'>r</text>
<text x="1348" y="827" font-size="32" font-weight="bold" font-style="italic" fill="#8ac6fd" stroke="#8ac6fd" stroke-width="1.6" stroke-linejoin="round" font-family='"Liberation Sans", sans-serif'>t</text>
<text x="1369" y="827" font-size="32" font-weight="bold" font-style="italic" fill="#8ac6fd" stroke="#8ac6fd" stroke-width="1.6" stroke-linejoin="round" font-family='"Liberation Sans", sans-serif'>0</text>
<text x="1403" y="827" font-size="32" font-weight="bold" font-style="italic" fill="#8ac6fd" stroke="#8ac6fd" stroke-width="1.6" stroke-linejoin="round" font-family='"Liberation Sans", sans-serif'>1</text>
<text x="1427" y="827" font-size="32" font-weight="bold" font-style="italic" fill="#8ac6fd" stroke="#8ac6fd" stroke-width="1.6" stroke-linejoin="round" font-family='"Liberation Sans", sans-serif'>.</text>
<text x="1448" y="827" font-size="32" font-weight="bold" font-style="italic" fill="#8ac6fd" stroke="#8ac6fd" stroke-width="1.6" stroke-linejoin="round" font-family='"Liberation Sans", sans-serif'>c</text>
<text x="1474" y="827" font-size="32" font-weight="bold" font-style="italic" fill="#8ac6fd" stroke="#8ac6fd" stroke-width="1.6" stroke-linejoin="round" font-family='"Liberation Sans", sans-serif'>n</text>
</g>
<path d="M1493.2 817.5 L1490.1 822.6 L1484.2 822.6 L1481.1 817.5 L1484.2 812.4 L1490.1 812.4 Z" fill="none" stroke="#131722" stroke-width="1.1" shape-rendering="geometricPrecision"/>
<circle cx="1487.2" cy="817.5" r="1.6" fill="none" stroke="#131722" stroke-width="1" shape-rendering="geometricPrecision"/>
</svg>
</body></html>
